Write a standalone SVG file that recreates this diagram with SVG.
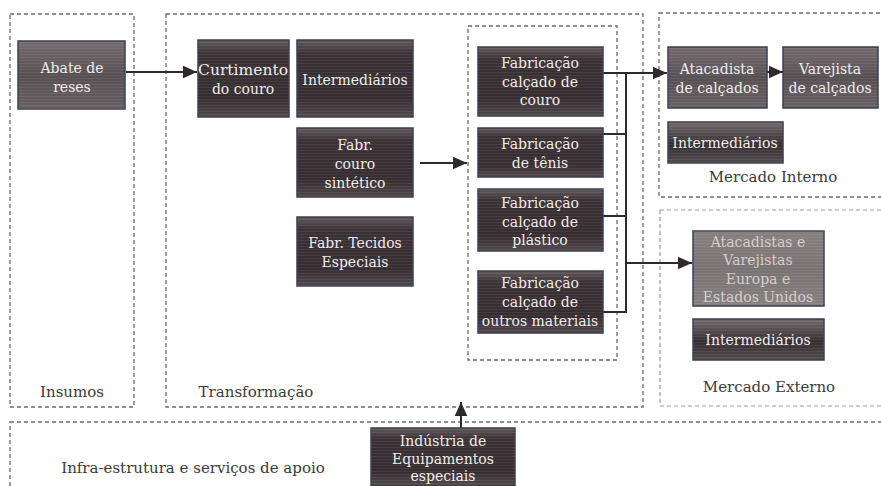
<svg xmlns="http://www.w3.org/2000/svg" width="881" height="486" viewBox="0 0 881 486">
<defs>
<linearGradient id="gDark" x1="0" y1="0" x2="0" y2="1">
<stop offset="0" stop-color="#625a5c"/><stop offset="0.18" stop-color="#3a3134"/><stop offset="0.75" stop-color="#352d30"/><stop offset="1" stop-color="#52494c"/>
</linearGradient>
<linearGradient id="gMid" x1="0" y1="0" x2="0" y2="1">
<stop offset="0" stop-color="#746c6e"/><stop offset="0.5" stop-color="#575052"/><stop offset="1" stop-color="#686062"/>
</linearGradient>
<linearGradient id="gLight" x1="0" y1="0" x2="0" y2="1">
<stop offset="0" stop-color="#86807f"/><stop offset="0.5" stop-color="#787273"/><stop offset="1" stop-color="#86807f"/>
</linearGradient>
<linearGradient id="gInt" x1="0" y1="0" x2="0" y2="1">
<stop offset="0" stop-color="#736c6e"/><stop offset="0.55" stop-color="#342d30"/><stop offset="1" stop-color="#544d50"/>
</linearGradient>
<pattern id="stripes" width="4" height="3" patternUnits="userSpaceOnUse">
<rect width="4" height="1" fill="#ffffff" fill-opacity="0.07"/>
</pattern>
<marker id="arr" viewBox="0 0 10 10" refX="10" refY="5" markerWidth="7" markerHeight="7" orient="auto" markerUnits="strokeWidth">
<path d="M0,0.5 L10,5 L0,9.5 z" fill="#2e292c"/>
</marker>
</defs>
<style>
.box{stroke:#3b3e50;stroke-width:1.5}
.tex{fill:url(#stripes)}
.bt{font-family:"DejaVu Serif","Liberation Serif",serif;font-size:14px;fill:#f0ecec;text-anchor:middle}
.bl{fill:#d2cece}
.lab{font-family:"DejaVu Serif","Liberation Serif",serif;font-size:15px;fill:#3a3a3a;text-anchor:middle}
.grp{fill:none;stroke:#6a6a6a;stroke-width:1.3;stroke-dasharray:4 3}
.grpl{fill:none;stroke:#9a9a9a;stroke-width:1.2;stroke-dasharray:4 3}
.con{fill:none;stroke:#2e292c;stroke-width:2}
</style>
<rect width="881" height="486" fill="#ffffff"/>

<g id="groups">
<rect id="insumos" class="grp" x="10" y="14" width="124" height="393"/>
<rect id="transformacao" class="grp" x="166" y="14" width="477" height="393"/>
<rect id="calcados" class="grp" x="468" y="26" width="149" height="334"/>
<rect id="mercado-interno" class="grp" x="659" y="13" width="240" height="184"/>
<rect id="mercado-externo" class="grpl" x="660" y="210" width="240" height="196"/>
<rect id="infra" class="grp" x="10" y="422" width="890" height="80"/>
<text class="lab" x="72" y="397">Insumos</text>
<text class="lab" x="256" y="397">Transformação</text>
<text class="lab" x="773" y="182">Mercado Interno</text>
<text class="lab" x="769" y="392">Mercado Externo</text>
<text class="lab" x="193" y="473">Infra-estrutura e serviços de apoio</text>
</g>

<g id="connectors">
<line class="con" x1="126" y1="72" x2="197" y2="72" marker-end="url(#arr)"/>
<line class="con" x1="420" y1="163" x2="467" y2="163" marker-end="url(#arr)"/>
<line class="con" x1="603" y1="73" x2="667" y2="73" marker-end="url(#arr)"/>
<line class="con" x1="603" y1="134" x2="626" y2="134"/>
<line class="con" x1="603" y1="216" x2="626" y2="216"/>
<line class="con" x1="603" y1="312" x2="626" y2="312"/>
<line class="con" x1="626" y1="73" x2="626" y2="313"/>
<line class="con" x1="626" y1="263" x2="692" y2="263" marker-end="url(#arr)"/>
<line class="con" x1="767" y1="72" x2="783" y2="72" marker-end="url(#arr)"/>
<line class="con" x1="461" y1="428" x2="461" y2="402" marker-end="url(#arr)"/>
</g>

<g id="abate">
<rect class="box" x="18" y="41" width="107" height="68" fill="url(#gMid)"/><rect class="tex" x="18" y="41" width="107" height="68"/>
<text class="bt" x="72" y="73">Abate de</text><text class="bt" x="72" y="92">reses</text>
</g>
<g id="curtimento">
<rect class="box" x="198" y="40" width="91" height="77" fill="url(#gDark)"/><rect class="tex" x="198" y="40" width="91" height="77"/>
<text class="bt" x="243" y="75" textLength="90" lengthAdjust="spacingAndGlyphs">Curtimento</text><text class="bt" x="243" y="94">do couro</text>
</g>
<g id="intermediarios-t">
<rect class="box" x="297" y="40" width="116" height="77" fill="url(#gDark)"/><rect class="tex" x="297" y="40" width="116" height="77"/>
<text class="bt" x="355" y="85">Intermediários</text>
</g>
<g id="couro-sintetico">
<rect class="box" x="297" y="128" width="116" height="69" fill="url(#gDark)"/><rect class="tex" x="297" y="128" width="116" height="69"/>
<text class="bt" x="355" y="150">Fabr.</text><text class="bt" x="355" y="169">couro</text><text class="bt" x="355" y="188">sintético</text>
</g>
<g id="tecidos">
<rect class="box" x="297" y="217" width="116" height="69" fill="url(#gDark)"/><rect class="tex" x="297" y="217" width="116" height="69"/>
<text class="bt" x="355" y="248">Fabr. Tecidos</text><text class="bt" x="355" y="267">Especiais</text>
</g>
<g id="calcado-couro">
<rect class="box" x="478" y="47" width="125" height="69" fill="url(#gDark)"/><rect class="tex" x="478" y="47" width="125" height="69"/>
<text class="bt" x="540" y="68">Fabricação</text><text class="bt" x="540" y="87">calçado de</text><text class="bt" x="540" y="105">couro</text>
</g>
<g id="tenis">
<rect class="box" x="478" y="128" width="125" height="49" fill="url(#gDark)"/><rect class="tex" x="478" y="128" width="125" height="49"/>
<text class="bt" x="540" y="149">Fabricação</text><text class="bt" x="540" y="168">de tênis</text>
</g>
<g id="plastico">
<rect class="box" x="478" y="189" width="125" height="62" fill="url(#gDark)"/><rect class="tex" x="478" y="189" width="125" height="62"/>
<text class="bt" x="540" y="208">Fabricação</text><text class="bt" x="540" y="227">calçado de</text><text class="bt" x="540" y="245">plástico</text>
</g>
<g id="outros">
<rect class="box" x="478" y="271" width="125" height="62" fill="url(#gDark)"/><rect class="tex" x="478" y="271" width="125" height="62"/>
<text class="bt" x="540" y="288">Fabricação</text><text class="bt" x="540" y="307">calçado de</text><text class="bt" x="540" y="326">outros materiais</text>
</g>
<g id="atacadista">
<rect class="box" x="668" y="47" width="99" height="61" fill="url(#gMid)"/><rect class="tex" x="668" y="47" width="99" height="61"/>
<text class="bt" x="717" y="74">Atacadista</text><text class="bt" x="717" y="93">de calçados</text>
</g>
<g id="varejista">
<rect class="box" x="783" y="47" width="95" height="61" fill="url(#gMid)"/><rect class="tex" x="783" y="47" width="95" height="61"/>
<text class="bt" x="830" y="74">Varejista</text><text class="bt" x="830" y="93">de calçados</text>
</g>
<g id="intermediarios-mi">
<rect class="box" x="668" y="122" width="115" height="41" fill="url(#gInt)"/><rect class="tex" x="668" y="122" width="115" height="41"/>
<text class="bt" x="725" y="148">Intermediários</text>
</g>
<g id="atacadistas-ext">
<rect class="box" x="693" y="231" width="131" height="75" fill="url(#gLight)"/><rect class="tex" x="693" y="231" width="131" height="75"/>
<text class="bt bl" x="758" y="247">Atacadistas e</text><text class="bt bl" x="758" y="265">Varejistas</text><text class="bt bl" x="758" y="284">Europa e</text><text class="bt bl" x="758" y="302">Estados Unidos</text>
</g>
<g id="intermediarios-me">
<rect class="box" x="693" y="319" width="131" height="41" fill="url(#gInt)"/><rect class="tex" x="693" y="319" width="131" height="41"/>
<text class="bt" x="758" y="345">Intermediários</text>
</g>
<g id="equipamentos">
<rect class="box" x="371" y="428" width="144" height="58" fill="url(#gDark)"/><rect class="tex" x="371" y="428" width="144" height="58"/>
<text class="bt" x="443" y="446">Indústria de</text><text class="bt" x="443" y="464">Equipamentos</text><text class="bt" x="443" y="481">especiais</text>
</g>
</svg>
